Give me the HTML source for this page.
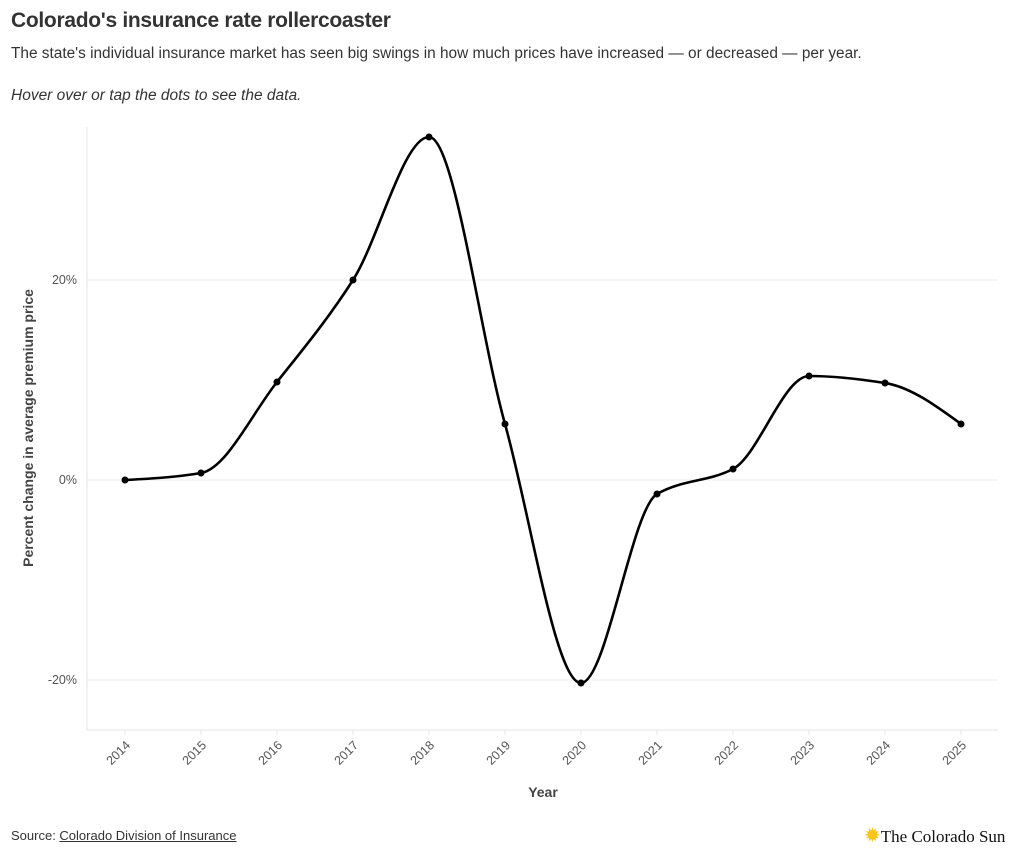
<!DOCTYPE html>
<html><head><meta charset="utf-8"><style>
body{margin:0;background:#fff;font-family:"Liberation Sans",sans-serif;color:#333;}
#wrap{position:relative;width:1020px;height:859px;overflow:hidden;}
h1{position:absolute;left:11px;top:9px;margin:0;font-size:21px;font-weight:bold;color:#333;letter-spacing:-0.3px;}
.sub{position:absolute;left:11px;top:45px;font-size:15.4px;color:#333;}
.hint{position:absolute;left:11px;top:87px;font-size:15.5px;font-style:italic;color:#333;}
.src{position:absolute;left:11px;top:828px;font-size:13px;color:#333;}
.src a{color:#333;text-decoration:underline;}
.logo{position:absolute;left:864px;top:823px;font-family:"Liberation Serif",serif;font-size:17px;color:#111;}
svg{position:absolute;left:0;top:0;}
</style></head><body>
<div id="wrap">
<h1>Colorado's insurance rate rollercoaster</h1>
<div class="sub">The state's individual insurance market has seen big swings in how much prices have increased — or decreased — per year.</div>
<div class="hint">Hover over or tap the dots to see the data.</div>
<svg id="chart" width="1020" height="859"></svg>
<div class="src">Source: <a>Colorado Division of Insurance</a></div>
<div class="logo"><span style="color:#f5c518;font-size:20px">✹</span>The Colorado Sun</div>
</div>
<script>
const years=[2014,2015,2016,2017,2018,2019,2020,2021,2022,2023,2024,2025];
const changes=[0,0.7,9.8,20,34.3,5.6,-20.3,-1.4,1.1,10.4,9.7,5.6];
const yTicks=[-20,0,20];
const NS="http://www.w3.org/2000/svg";
const svg=document.getElementById('chart');
const X0=125,X1=961,L=87,R=998,T=127,B=730;
const x=y=>X0+(y-years[0])*(X1-X0)/(years[years.length-1]-years[0]);
const yv=v=>480-v*10;
function mk(t,a,p){const e=document.createElementNS(NS,t);for(const k in a)e.setAttribute(k,a[k]);(p||svg).appendChild(e);return e;}
yTicks.forEach(t=>{
 const g=mk('line',{x1:L,x2:R,y1:yv(t),y2:yv(t),stroke:'#ececec','stroke-width':1});
 
 
 const l=mk('text',{x:L-10,y:yv(t)+4,'text-anchor':'end','font-size':12.5,fill:'#555','font-family':'Liberation Sans,sans-serif'});
 l.textContent=t+'%';
 
 
});
const ax=mk('path',{d:`M${L},${T}V${B}H${R}`,fill:'none',stroke:'#e6e6e6','stroke-width':1});


years.forEach(yr=>{
 const tk=mk('line',{x1:x(yr),x2:x(yr),y1:B,y2:B+5,stroke:'#e6e6e6'});
 
 
 const px=x(yr)+6,py=B+16;
 const l=mk('text',{x:px,y:py,'text-anchor':'end','font-size':12.5,fill:'#555',transform:`rotate(-45 ${px} ${py})`,'font-family':'Liberation Sans,sans-serif'});
 l.textContent=yr;
 
 
});
const xt=mk('text',{x:543,y:797,'text-anchor':'middle','font-size':14,'font-weight':'bold',fill:'#444'});
xt.textContent='Year';


const yt=mk('text',{x:33,y:428,'text-anchor':'middle','font-size':14,'font-weight':'bold',fill:'#444',transform:'rotate(-90 33 428)'});
yt.textContent='Percent change in average premium price';


const P=years.map((yr,i)=>[x(yr),yv(changes[i])]);
const n=P.length,s=[],m=[];
for(let i=0;i<n-1;i++)s.push((P[i+1][1]-P[i][1])/(P[i+1][0]-P[i][0]));
for(let i=0;i<n;i++){
 if(i==0)m.push(s[0]);else if(i==n-1)m.push(s[n-2]);
 else{const a=s[i-1],b=s[i];if(a*b<=0)m.push(0);else{const h0=P[i][0]-P[i-1][0],h1=P[i+1][0]-P[i][0];m.push(3*(h0+h1)/((2*h1+h0)/a+(h1+2*h0)/b));}}
}
m[0]=(3*s[0]-m[1])/2;m[n-1]=(3*s[n-2]-m[n-2])/2;
let d=`M${P[0][0]},${P[0][1]}`;
for(let i=0;i<n-1;i++){const h=(P[i+1][0]-P[i][0])/3;d+=`C${P[i][0]+h},${P[i][1]+m[i]*h} ${P[i+1][0]-h},${P[i+1][1]-m[i+1]*h} ${P[i+1][0]},${P[i+1][1]}`;}
const line=mk('path',{d:d,fill:'none',stroke:'#000','stroke-width':2.6});


P.forEach((p,i)=>{
 const c=mk('circle',{cx:p[0],cy:p[1],r:3.5,fill:'#000'});
 
 
});
</script>
</body></html>
